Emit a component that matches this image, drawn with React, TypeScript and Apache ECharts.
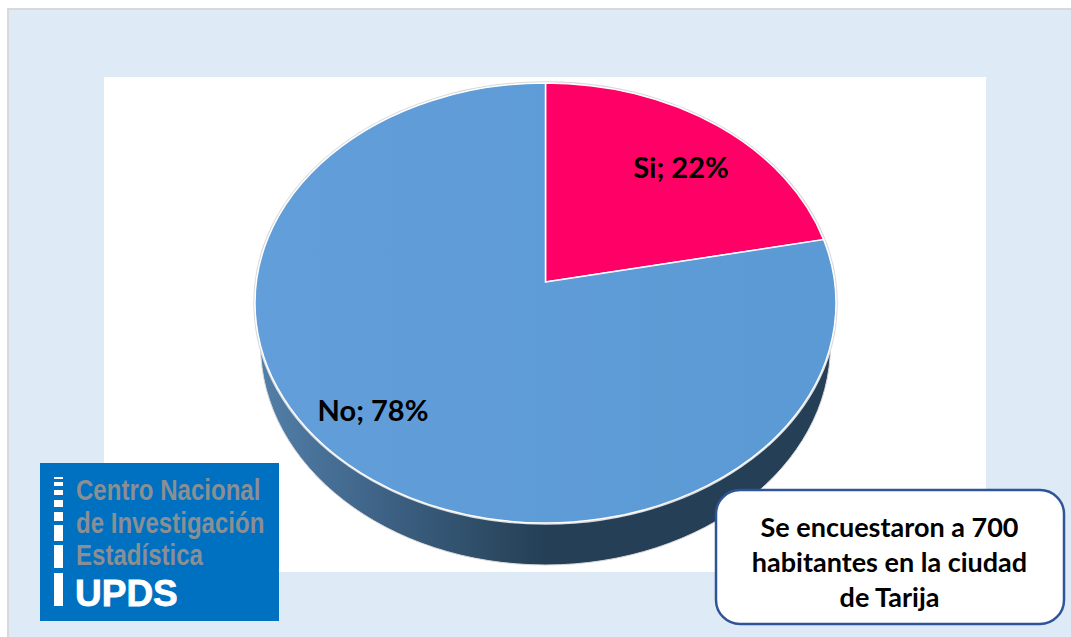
import React, { useEffect, useRef } from "react";
import * as echarts from "echarts";

const categories = ["Si", "No"];
const percentages = [22, 78];
const sliceColors = ["#FF0066", "#5F9CD9"];
const labelCentres = [[681, 166], [373, 409]];
const logoLines = ["Centro Nacional", "de Investigación", "Estadística"];
const logoBrand = "UPDS";
const noteLines = ["Se encuestaron a 700", "habitantes en la ciudad", "de Tarija"];

const CX = 545.5, CY = 303, RX = 290.5, RY = 220, APEX_Y = 282, TILT_RY = 232;

function rimPoint(theta: number): [number, number] {
  const dx = Math.sin(theta) * RX;
  const dy = -Math.cos(theta) * TILT_RY;
  const ox = 0, oy = APEX_Y - CY;
  const a = (dx * dx) / (RX * RX) + (dy * dy) / (RY * RY);
  const b = 2 * ((ox * dx) / (RX * RX) + (oy * dy) / (RY * RY));
  const c = (ox * ox) / (RX * RX) + (oy * oy) / (RY * RY) - 1;
  const s = (-b + Math.sqrt(b * b - 4 * a * c)) / (2 * a);
  return [CX + ox + s * dx, CY + oy + s * dy];
}

const logoBars = [[477, 2], [482, 4], [490, 5], [500, 7], [512, 9], [525, 16], [545, 23], [573, 33]];

export default function App() {
  const ref = useRef<HTMLDivElement>(null);
  useEffect(() => {
    document.body.style.margin = "0";
    document.body.style.overflow = "hidden";
    const chart = echarts.init(ref.current!, undefined, { renderer: "svg" });
    const total = percentages.reduce((a, b) => a + b, 0);
    const bodyFont = "Lato, 'Open Sans', sans-serif";
    chart.setOption({
      animation: false,
      backgroundColor: "#DEEAF6",
      graphic: [
        { type: "rect", z: 0, shape: { x: 7, y: 8, width: 1064, height: 2 }, style: { fill: "#D9D9D9" } },
        { type: "rect", z: 0, shape: { x: 7, y: 8, width: 2, height: 629 }, style: { fill: "#D9D9D9" } },
        { type: "rect", z: 0, shape: { x: 0, y: 0, width: 1071, height: 8 }, style: { fill: "#FFFFFF" } },
        { type: "rect", z: 0, shape: { x: 0, y: 0, width: 7, height: 637 }, style: { fill: "#FFFFFF" } },
        { type: "rect", z: 0, shape: { x: 104, y: 77, width: 882, height: 495 }, style: { fill: "#FFFFFF" } },
        {
          type: "ellipse", z: 1,
          shape: { cx: CX, cy: 345, rx: 285, ry: 220 },
          style: {
            fill: new echarts.graphic.LinearGradient(0, 0, 1, 0, [
              { offset: 0, color: "#527FA8" },
              { offset: 0.2, color: "#3F6488" },
              { offset: 0.42, color: "#2B4961" },
              { offset: 0.5, color: "#243F56" },
              { offset: 1, color: "#243F56" },
            ]),
            stroke: "#D9D9D9", lineWidth: 1,
          },
        },
        { type: "ellipse", z: 1, shape: { cx: CX, cy: CY, rx: RX + 1, ry: RY + 1 }, style: { fill: "none", stroke: "#D9D9D9", lineWidth: 1.5 } },
        { type: "rect", z: 10, shape: { x: 40, y: 463, width: 239, height: 158 }, style: { fill: "#0070C0" } },
        ...logoBars.map(([y, h]) => ({ type: "rect", z: 11, shape: { x: 54, y, width: 9, height: h }, style: { fill: "#FFFFFF" } })),
        ...logoLines.map((t, i) => ({
          type: "text", z: 11, x: 76, y: [505, 538, 570][i], scaleX: 0.83, originX: 0,
          style: { text: t, fill: "#8A8F94", font: "bold 29px 'Liberation Sans', sans-serif", textVerticalAlign: "bottom" },
        })),
        {
          type: "text", z: 11, x: 75, y: 612,
          style: { text: logoBrand, fill: "#FFFFFF", stroke: "#FFFFFF", lineWidth: 0.8, font: "bold 37px 'Liberation Sans', sans-serif", textVerticalAlign: "bottom" },
        },
        {
          type: "rect", z: 10,
          shape: { x: 716, y: 490, width: 348, height: 134, r: 24 },
          style: { fill: "#FFFFFF", stroke: "#2F5597", lineWidth: 2.5 },
        },
        ...noteLines.map((t, i) => ({
          type: "text", z: 11, x: 889.5, y: 526 + i * 35,
          style: { text: t, fill: "#000000", font: `bold 27px ${bodyFont}`, textAlign: "center", textVerticalAlign: "middle" },
        })),
      ],
      series: [
        {
          type: "custom",
          coordinateSystem: "none",
          z: 2,
          data: percentages.map((v, i) => ({ name: categories[i], value: [v] })),
          renderItem: (params: any, api: any) => {
            const i = params.dataIndex;
            const start = percentages.slice(0, i).reduce((a, b) => a + b, 0) / total * Math.PI * 2;
            const sweep = (api.value(0) as number) / total * Math.PI * 2;
            const [x0, y0] = rimPoint(start);
            const [x1, y1] = rimPoint(start + sweep);
            const large = sweep > Math.PI ? 1 : 0;
            const d = `M${CX} ${APEX_Y}L${x0} ${y0}A${RX} ${RY} 0 ${large} 1 ${x1} ${y1}Z`;
            return {
              type: "group",
              children: [
                {
                  type: "path",
                  shape: { pathData: d },
                  style: {
                    fill: i === 0 ? sliceColors[0] : new echarts.graphic.LinearGradient(0, 0, 1, 0, [
                      { offset: 0, color: "#629EDA" },
                      { offset: 1, color: "#5B9AD4" },
                    ]),
                    stroke: "#FFFFFF",
                    lineWidth: 1.5,
                  },
                },
                {
                  type: "text",
                  x: labelCentres[i][0],
                  y: labelCentres[i][1],
                  style: {
                    text: `${categories[i]}; ${api.value(0)}%`,
                    fill: "#000000",
                    font: `bold 29px ${bodyFont}`,
                    textAlign: "center",
                    textVerticalAlign: "middle",
                  },
                },
              ],
            };
          },
        },
      ],
    });
    return () => chart.dispose();
  }, []);
  return <div ref={ref} style={{ width: 1071, height: 637 }} />;
}
